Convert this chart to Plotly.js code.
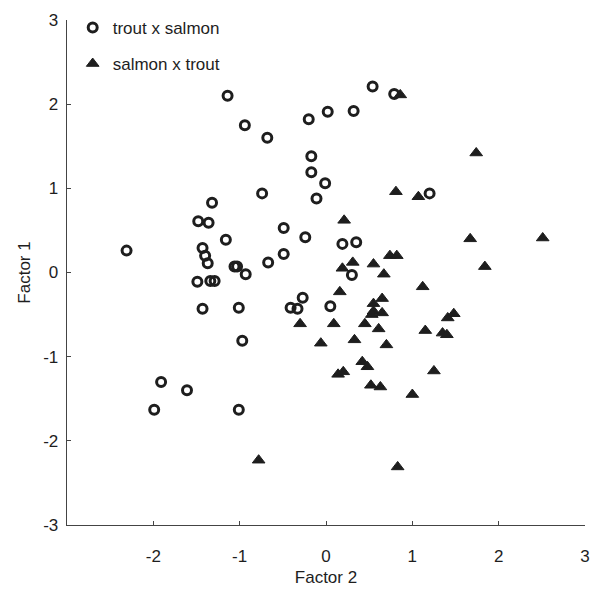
<!DOCTYPE html>
<html>
<head>
<meta charset="utf-8">
<script src="https://cdn.plot.ly/plotly-3.0.1.min.js"></script>
<style>html,body{margin:0;padding:0;background:#fff;}#chart{width:597px;height:597px;}</style>
</head>
<body>
<div id="chart"></div>
<script>
// trout x salmon (open circles)
var troutSalmonX = [-2.31,-1.14,-0.94,-0.68,-0.74,-1.32,-1.48,-1.36,-1.16,-1.43,-1.40,-1.37,-1.49,-1.34,-1.29,-1.06,-1.03,-0.93,-0.67,-0.49,-0.49,-0.24,-1.43,-1.01,-0.97,-1.91,-1.61,-1.99,-1.01,0.54,0.79,0.32,0.02,-0.20,-0.17,-0.17,-0.01,-0.11,0.19,0.35,0.30,0.05,1.20,-0.27,-0.33,-0.41];
var troutSalmonY = [0.26,2.10,1.75,1.60,0.94,0.83,0.61,0.59,0.39,0.29,0.20,0.11,-0.11,-0.10,-0.10,0.07,0.07,-0.02,0.12,0.53,0.22,0.42,-0.43,-0.42,-0.81,-1.30,-1.40,-1.63,-1.63,2.21,2.12,1.92,1.91,1.82,1.38,1.19,1.06,0.88,0.34,0.36,-0.03,-0.40,0.94,-0.30,-0.43,-0.42];
// salmon x trout (filled triangles)
var salmonTroutX = [0.86,1.74,0.81,1.07,0.21,1.67,2.51,0.74,0.82,0.31,0.55,0.19,0.67,1.84,1.12,0.16,0.65,0.55,0.55,0.65,0.53,1.41,1.48,-0.30,0.09,0.45,0.61,1.15,1.35,1.40,-0.06,0.33,0.70,0.42,0.48,0.14,0.20,1.25,0.52,0.63,1.00,0.83,-0.78];
var salmonTroutY = [2.11,1.42,0.96,0.90,0.62,0.40,0.41,0.20,0.20,0.12,0.10,0.05,-0.02,0.07,-0.17,-0.23,-0.31,-0.37,-0.46,-0.48,-0.50,-0.54,-0.49,-0.61,-0.61,-0.61,-0.67,-0.69,-0.72,-0.74,-0.84,-0.80,-0.86,-1.06,-1.12,-1.21,-1.18,-1.17,-1.34,-1.36,-1.45,-2.31,-2.23];
var seriesNames = ["trout x salmon", "salmon x trout"];
var xTicks = [-2, -1, 0, 1, 2, 3];
var yTicks = [-3, -2, -1, 0, 1, 2, 3];

var FONT = "Liberation Sans, Arial, Helvetica, sans-serif";
var INK = "#1e1e1e";

var traces = [
  {
    x: troutSalmonX, y: troutSalmonY, name: seriesNames[0], type: "scatter", mode: "markers",
    legendgroup: "a",
    marker: {symbol: "circle-open", size: 9, color: INK, line: {width: 3, color: INK}}
  },
  {
    x: salmonTroutX, y: salmonTroutY, name: seriesNames[1], type: "scatter", mode: "markers",
    legendgroup: "b",
    marker: {symbol: "triangle-up", size: 11, color: INK, line: {width: 1, color: INK}}
  }
];

var layout = {
  width: 597, height: 597,
  margin: {l: 67, r: 12, t: 20, b: 72, autoexpand: false},
  paper_bgcolor: "#fff", plot_bgcolor: "#fff",
  font: {family: FONT, size: 17, color: INK},
  showlegend: true,
  legend: {
    x: 0.011, y: 1.02, xanchor: "left", yanchor: "top",
    bgcolor: "rgba(0,0,0,0)", borderwidth: 0,
    tracegroupgap: 11, traceorder: "grouped",
    font: {family: FONT, size: 17, color: INK}
  },
  xaxis: {
    range: [-3, 3], tickvals: xTicks, ticktext: xTicks.map(String),
    showgrid: false, zeroline: false,
    showline: true, linecolor: "#444", linewidth: 1.3,
    ticks: "inside", ticklen: 4, tickwidth: 1, tickcolor: "#444",
    ticklabelstandoff: 15,
    tickfont: {family: FONT, size: 17, color: INK},
    title: {text: "Factor 2", font: {family: FONT, size: 17, color: INK}, standoff: 6},
    automargin: false
  },
  yaxis: {
    range: [-3, 3], tickvals: yTicks, ticktext: yTicks.map(String),
    showgrid: false, zeroline: false,
    showline: true, linecolor: "#444", linewidth: 1.3,
    ticks: "inside", ticklen: 4, tickwidth: 1, tickcolor: "#444",
    ticklabelstandoff: 4,
    tickfont: {family: FONT, size: 17, color: INK},
    title: {text: "Factor 1", font: {family: FONT, size: 17, color: INK}, standoff: 8},
    automargin: false
  }
};

Plotly.newPlot("chart", traces, layout, {displayModeBar: false, staticPlot: true});
</script>
</body>
</html>
